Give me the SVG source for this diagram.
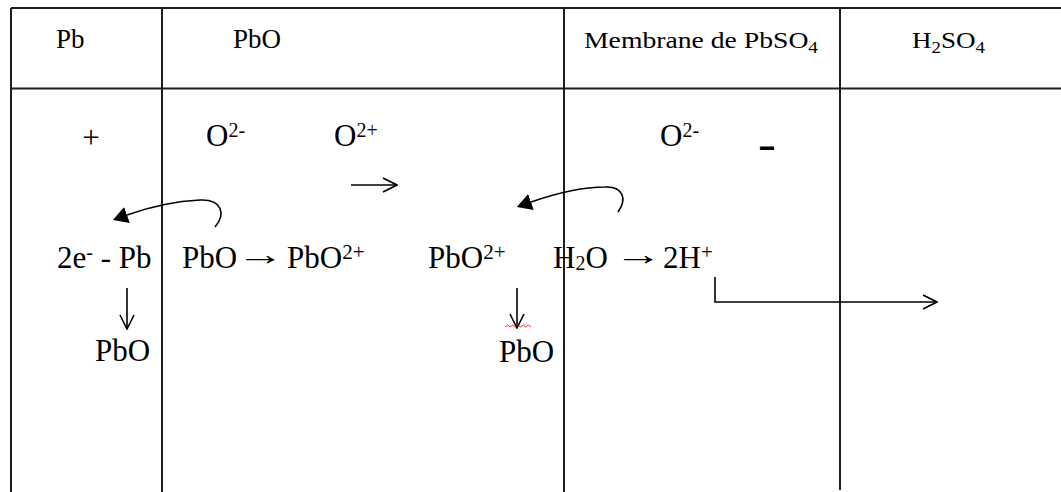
<svg xmlns="http://www.w3.org/2000/svg" width="1061" height="492" viewBox="0 0 1061 492">
<style>
text{font-family:"Liberation Serif","Times New Roman",serif;fill:#000}
.h{font-size:27px}
.hm{font-size:23px}
.b{font-size:31px}
.grid{stroke:#1e1e1e;stroke-width:2;fill:none}
.ln{stroke:#000;stroke-width:1.6;fill:none}
</style>
<defs>
<marker id="tri" markerUnits="userSpaceOnUse" markerWidth="15" markerHeight="17" viewBox="0 0 15 17" refX="0" refY="8.5" orient="auto"><path d="M0,0 L15,8.5 L0,17 z" fill="#000"/></marker>
<marker id="open" markerUnits="userSpaceOnUse" markerWidth="16" markerHeight="16" viewBox="0 0 16 16" refX="15" refY="8" orient="auto"><path d="M1,1 L15,8 L1,15" fill="none" stroke="#000" stroke-width="1.6"/></marker>
</defs>
<rect width="1061" height="492" fill="#fff"/>
<g id="table" class="grid">
<path d="M11,8 H1061 M11,88.5 H1061 M11,8 V492 M162,8 V492 M564,8 V492 M840,8 V490"/>
</g>
<g id="headers">
<text id="h-pb" class="h" x="56" y="48">Pb</text>
<text id="h-pbo" class="h" x="233" y="48">PbO</text>
<text id="h-membrane" class="hm" x="584" y="48" textLength="234" lengthAdjust="spacingAndGlyphs">Membrane de PbSO<tspan font-size="16" dy="5">4</tspan></text>
<text id="h-h2so4" class="hm" x="912" y="48" textLength="73" lengthAdjust="spacingAndGlyphs">H<tspan font-size="16" dy="5">2</tspan><tspan dy="-5">SO</tspan><tspan font-size="16" dy="5">4</tspan></text>
</g>
<g id="charges">
<text id="plus" class="b" x="91" y="148" text-anchor="middle">+</text>
<text id="o2m-1" class="b" x="206" y="146">O<tspan font-size="20" dy="-9">2-</tspan></text>
<text id="o2p" class="b" x="334" y="146">O<tspan font-size="20" dy="-9">2+</tspan></text>
<text id="o2m-2" class="b" x="660" y="146">O<tspan font-size="20" dy="-9">2-</tspan></text>
<text id="minus" x="758" y="158" font-size="40" font-weight="bold" textLength="18" lengthAdjust="spacingAndGlyphs">-</text>
</g>
<g id="reactions">
<text id="r1" class="b" x="57" y="268">2e<tspan font-size="20" dy="-9">-</tspan><tspan dy="9"> - Pb</tspan></text>
<text id="r2a" class="b" x="182" y="268">PbO</text>
<text id="r2b" class="b" transform="translate(236.5,265) scale(1.55,1)">→</text>
<text id="r2c" class="b" x="287" y="268">PbO<tspan font-size="21" dy="-9">2+</tspan></text>
<text id="r3" class="b" x="428" y="268">PbO<tspan font-size="21" dy="-9">2+</tspan></text>
<text id="r4a" class="b" x="553" y="268">H<tspan font-size="20" dy="2">2</tspan><tspan dy="-2">O</tspan></text>
<text id="r4b" class="b" transform="translate(614.5,265) scale(1.55,1)">→</text>
<text id="r4c" class="b" x="663" y="268">2H<tspan font-size="21" dy="-9">+</tspan></text>
<text id="p1" class="b" x="95" y="361">PbO</text>
<text id="p2" class="b" x="499" y="362">PbO</text>
</g>
<g id="connectors">
<path class="ln" d="M215,227 C226,214 222,199 200,200 C180,201 155,205 127,215" marker-end="url(#tri)"/>
<path class="ln" d="M618,212 C628,198 622,186 605,187 C585,187 560,192 531,202" marker-end="url(#tri)"/>
<path class="ln" d="M351,185 H397" marker-end="url(#open)"/>
<path class="ln" d="M127,288 V329" marker-end="url(#open)"/>
<path class="ln" d="M517,288 V328" marker-end="url(#open)"/>
<path class="ln" d="M715,277 V302 H937" marker-end="url(#open)"/>
</g>
<path id="squiggle" d="M505,327 l2.6,-2 l2.6,2 l2.6,-2 l2.6,2 l2.6,-2 l2.6,2 l2.6,-2 l2.6,2 l2.6,-2 l2.6,2" fill="none" stroke="#e00" stroke-width="0.8"/>
</svg>
